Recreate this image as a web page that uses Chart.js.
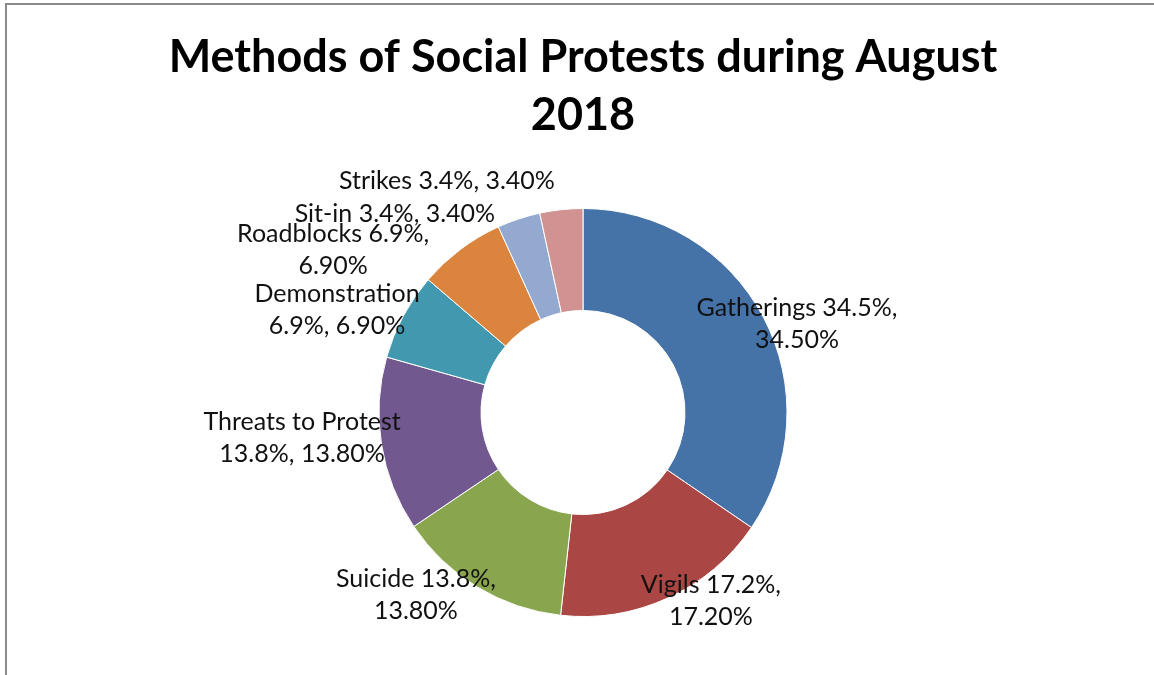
<!DOCTYPE html>
<html lang="en">
<head>
  <meta charset="UTF-8">
  <title>Methods of Social Protests during August 2018</title>
  <script src="https://cdn.jsdelivr.net/npm/chart.js"></script>
  <style>
    html, body {
      margin: 0;
      padding: 0;
      background: #fff;
      overflow: hidden;
    }
    .frame {
      position: absolute;
      left: 5px;
      top: 3px;
      width: 1200px;
      height: 700px;
      border-top: 2px solid #8a8a8a;
      border-left: 2px solid #8a8a8a;
      pointer-events: none;
    }
    .wrap {
      position: absolute;
      left: 0;
      top: 0;
      width: 1154px;
      height: 675px;
    }
  </style>
</head>
<body>
  <div class="wrap"><canvas id="protests"></canvas></div>
  <div class="frame"></div>

  <script>
    // Share of protest methods, in percent
    const methods = ['Gatherings', 'Vigils', 'Suicide', 'Threats to Protest', 'Demonstration', 'Roadblocks', 'Sit-in', 'Strikes'];
    const shares = [34.5, 17.2, 13.8, 13.8, 6.9, 6.9, 3.4, 3.4];
    const colors = ['#4572a7', '#aa4643', '#89a54e', '#71588f', '#4198af', '#db843d', '#93a9cf', '#d19392'];
    // where each label wraps: after the comma, after the name, or not at all
    const wraps = ['comma', 'comma', 'comma', 'name', 'name', 'comma', 'none', 'none'];

    function labelLines(i) {
      const v = shares[i];
      const a = methods[i] + ' ' + v.toFixed(1) + '%,';
      const b = v.toFixed(2) + '%';
      if (wraps[i] === 'comma') return [a, b];
      if (wraps[i] === 'name') return [methods[i], v.toFixed(1) + '%, ' + b];
      return [a + ' ' + b];
    }

    // label centres relative to the ring centre, in outer-radius units
    const sliceLabels = {
      id: 'sliceLabels',
      afterDatasetsDraw(chart, args, opts) {
        const ctx = chart.ctx;
        const arcs = chart.getDatasetMeta(0).data;
        ctx.save();
        ctx.font = opts.font;
        ctx.fillStyle = opts.color;
        ctx.textAlign = 'center';
        ctx.textBaseline = 'middle';
        arcs.forEach((arc, i) => {
          const r = arc.outerRadius;
          const [ox, oy] = opts.anchors[i];
          const lines = labelLines(i);
          const cx = arc.x + ox * r;
          const cy = arc.y + oy * r - (lines.length - 1) * opts.lineHeight / 2;
          lines.forEach((t, j) => ctx.fillText(t, cx, cy + j * opts.lineHeight));
        });
        ctx.restore();
      }
    };

    new Chart(document.getElementById('protests'), {
      type: 'doughnut',
      data: {
        labels: methods,
        datasets: [{
          data: shares,
          backgroundColor: colors,
          borderColor: '#ffffff',
          borderWidth: 1
        }]
      },
      options: {
        responsive: true,
        maintainAspectRatio: false,
        animation: false,
        cutout: '50%',
        layout: { padding: { left: 12, right: 0, top: 0, bottom: 58 } },
        plugins: {
          legend: { display: false },
          tooltip: { enabled: false },
          title: {
            display: true,
            text: ['Methods of Social Protests during August', '2018'],
            color: '#000',
            font: { family: 'Lato', size: 45, weight: 'bold', lineHeight: 1.3 },
            padding: { top: 28, bottom: 63 }
          },
          sliceLabels: {
            font: '25px Lato',
            color: '#111',
            lineHeight: 32,
            anchors: [
              [1.049, -0.436], [0.627, 0.926], [-0.819, 0.892], [-1.377, 0.127],
              [-1.206, -0.505], [-1.225, -0.799], [-0.922, -0.971], [-0.667, -1.137]
            ]
          }
        }
      },
      plugins: [sliceLabels]
    });
  </script>
</body>
</html>
